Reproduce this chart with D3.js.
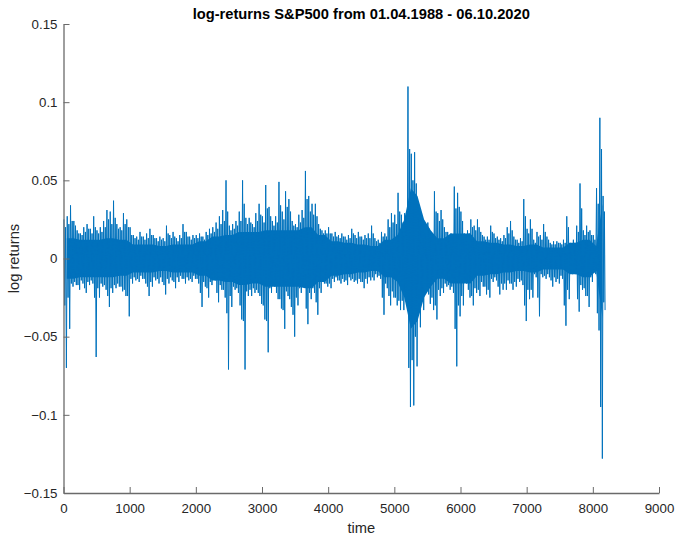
<!DOCTYPE html>
<html>
<head>
<meta charset="utf-8">
<script src="https://cdn.jsdelivr.net/npm/d3@7"></script>
<style>
    body { margin: 0; background: #fff; }
    svg { display: block; font-family: "Liberation Sans", Arial, Helvetica, sans-serif; }
    .axis path, .axis line { stroke: #6a6a6a; }
    .axis text { fill: #262626; font-size: 13.3px; }
</style>
</head>
<body>
<svg id="chart" width="677" height="536"></svg>
<script>
// daily log returns per block of 50 trading days:
// the largest and the second-tier spike up and down in every block
var BIN = 50;
var N_DAYS = 8190;

var binHigh = [
    .025, .027, .034, .024, .018, .016, .020, .022, .019, .027,
    .018, .020, .024, .031, .030, .037, .022, .020, .029, .025,
    .020, .015, .014, .017, .014, .016, .019, .015, .013, .014,
    .013, .021, .015, .017, .013, .015, .022, .017, .014, .015,
    .015, .016, .014, .017, .019, .020, .023, .027, .031, .050,
    .021, .022, .024, .030, .050, .026, .026, .022, .029, .035,
    .027, .047, .033, .024, .027, .049, .030, .043, .038, .024,
    .022, .028, .031, .056, .040, .035, .035, .022, .018, .018,
    .020, .016, .017, .015, .016, .014, .015, .019, .015, .017,
    .014, .015, .016, .021, .013, .012, .017, .016, .025, .029,
    .028, .042, .028, .029, .110, .067, .068, .035, .029, .016,
    .023, .016, .043, .029, .031, .020, .017, .016, .046, .042,
    .030, .016, .018, .025, .021, .025, .017, .014, .014, .021,
    .016, .014, .013, .015, .020, .024, .014, .012, .013, .038,
    .019, .025, .012, .017, .015, .022, .014, .010, .011, .011,
    .010, .012, .027, .010, .012, .021, .048, .018, .021, .018,
    .015, .045, .090, .040
];

var binLow = [
    -.070, -.045, -.018, -.017, -.020, -.016, -.022, -.017, -.016, -.063,
    -.025, -.018, -.020, -.031, -.022, -.019, -.018, -.021, -.024, -.037,
    -.016, -.014, -.015, -.013, -.016, -.024, -.018, -.014, -.016, -.015,
    -.023, -.016, -.014, -.019, -.015, -.013, -.016, -.014, -.015, -.013,
    -.016, -.031, -.018, -.025, -.017, -.014, -.028, -.020, -.025, -.071,
    -.031, -.020, -.022, -.039, -.071, -.024, -.024, -.022, -.022, -.029,
    -.039, -.060, -.022, -.018, -.026, -.032, -.045, -.024, -.031, -.050,
    -.030, -.022, -.018, -.042, -.026, -.022, -.036, -.022, -.016, -.018,
    -.019, -.015, -.014, -.016, -.015, -.017, -.014, -.015, -.016, -.015,
    -.019, -.016, -.014, -.014, -.012, -.013, -.036, -.019, -.030, -.025,
    -.030, -.033, -.033, -.025, -.095, -.094, -.069, -.044, -.033, -.018,
    -.029, -.033, -.039, -.024, -.022, -.018, -.020, -.022, -.069, -.037,
    -.030, -.016, -.025, -.030, -.022, -.024, -.018, -.023, -.025, -.015,
    -.014, -.023, -.020, -.020, -.016, -.020, -.018, -.015, -.017, -.040,
    -.026, -.025, -.012, -.037, -.012, -.013, -.012, -.018, -.015, -.016,
    -.013, -.043, -.026, -.010, -.010, -.034, -.020, -.024, -.031, -.015,
    -.010, -.046, -.128, -.033
];

var binHigh2 = [
    .020, .022, .024, .021, .016, .015, .017, .019, .016, .020,
    .016, .017, .020, .025, .022, .026, .019, .018, .022, .020,
    .015, .013, .012, .014, .012, .013, .015, .013, .011, .012,
    .011, .016, .013, .014, .011, .013, .017, .014, .012, .013,
    .013, .014, .012, .015, .016, .017, .019, .022, .024, .030,
    .018, .019, .021, .024, .035, .022, .023, .020, .024, .028,
    .023, .032, .027, .021, .023, .034, .025, .033, .030, .021,
    .020, .023, .026, .038, .030, .028, .027, .019, .016, .016,
    .016, .014, .014, .013, .014, .012, .013, .016, .013, .014,
    .012, .013, .013, .016, .011, .010, .014, .014, .020, .023,
    .022, .030, .023, .024, .070, .050, .048, .029, .024, .014,
    .019, .014, .030, .024, .025, .017, .015, .014, .032, .033,
    .024, .014, .016, .020, .018, .020, .015, .012, .012, .017,
    .013, .012, .011, .013, .016, .018, .012, .010, .011, .027,
    .016, .019, .010, .014, .012, .017, .012, .009, .009, .010,
    .009, .010, .020, .009, .010, .017, .032, .015, .017, .015,
    .012, .035, .070, .030
];

var binLow2 = [
    -.030, -.025, -.016, -.015, -.017, -.014, -.019, -.015, -.014, -.025,
    -.019, -.016, -.017, -.024, -.019, -.017, -.016, -.018, -.020, -.024,
    -.013, -.012, -.013, -.011, -.013, -.018, -.015, -.012, -.013, -.012,
    -.017, -.013, -.012, -.015, -.012, -.011, -.013, -.012, -.013, -.011,
    -.013, -.022, -.015, -.019, -.015, -.012, -.022, -.017, -.020, -.035,
    -.024, -.018, -.019, -.030, -.040, -.021, -.020, -.019, -.020, -.024,
    -.030, -.040, -.019, -.016, -.022, -.026, -.033, -.021, -.026, -.036,
    -.025, -.019, -.016, -.032, -.022, -.019, -.028, -.019, -.014, -.016,
    -.016, -.013, -.012, -.014, -.013, -.014, -.012, -.013, -.014, -.013,
    -.015, -.013, -.012, -.012, -.010, -.011, -.025, -.016, -.024, -.021,
    -.025, -.027, -.027, -.021, -.070, -.065, -.050, -.035, -.027, -.016,
    -.023, -.025, -.030, -.020, -.019, -.016, -.017, -.018, -.045, -.030,
    -.024, -.014, -.020, -.024, -.019, -.020, -.015, -.018, -.020, -.013,
    -.012, -.018, -.016, -.016, -.014, -.016, -.015, -.013, -.014, -.030,
    -.020, -.020, -.010, -.025, -.010, -.011, -.010, -.014, -.012, -.013,
    -.011, -.030, -.020, -.009, -.009, -.026, -.017, -.019, -.024, -.012,
    -.009, -.035, -.095, -.028
];

// the solid part of the band, per block of 100 days
var CORE_BIN = 100;

var coreHigh = [
    .013, .013, .012, .012, .012, .012, .013, .013, .012, .012,
    .009, .009, .009, .009, .008, .008, .009, .009, .009, .009,
    .011, .011, .014, .014, .015, .015, .017, .017, .017, .017,
    .018, .018, .018, .018, .018, .018, .020, .020, .015, .015,
    .011, .011, .010, .010, .009, .009, .008, .008, .012, .012,
    .015, .025, .045, .040, .025, .018, .013, .013, .016, .016,
    .016, .016, .011, .011, .010, .010, .009, .009, .008, .008,
    .009, .009, .007, .007, .007, .007, .010, .010, .012, .012,
    .008, .035
];

var coreLow = [
    -.013, -.013, -.012, -.012, -.012, -.012, -.012, -.012, -.011, -.011,
    -.009, -.009, -.009, -.009, -.008, -.008, -.009, -.009, -.009, -.009,
    -.011, -.011, -.014, -.014, -.015, -.015, -.017, -.017, -.016, -.016,
    -.018, -.018, -.018, -.018, -.018, -.018, -.019, -.019, -.015, -.015,
    -.011, -.011, -.010, -.010, -.009, -.009, -.008, -.008, -.012, -.012,
    -.015, -.025, -.045, -.040, -.025, -.018, -.013, -.013, -.016, -.016,
    -.016, -.016, -.011, -.011, -.010, -.010, -.009, -.009, -.008, -.008,
    -.009, -.009, -.007, -.007, -.007, -.007, -.010, -.010, -.012, -.012,
    -.008, -.038
];

var xTicks = [0, 1000, 2000, 3000, 4000, 5000, 6000, 7000, 8000, 9000];
var yTicks = [-0.15, -0.1, -0.05, 0, 0.05, 0.1, 0.15];

var titleText = "log-returns S&P500 from 01.04.1988 - 06.10.2020";

// the series as drawn: four spikes inside every block
var series = [];
binHigh.forEach(function(h, i) {
    var start = i * BIN;
    var w = Math.min(start + BIN, N_DAYS) - start;
    series.push([start + w * 0.125, h]);
    series.push([start + w * 0.375, binLow2[i]]);
    series.push([start + w * 0.625, binHigh2[i]]);
    series.push([start + w * 0.875, binLow[i]]);
});

var core = coreHigh.map(function(h, i) {
    var start = i * CORE_BIN;
    var end = Math.min(start + CORE_BIN, N_DAYS);
    return {t: (start + end) / 2, hi: h, lo: coreLow[i]};
});

var svg = d3.select("#chart");

var x = d3.scaleLinear().domain([0, 9000]).range([63.5, 659]);
var y = d3.scaleLinear().domain([-0.15, 0.15]).range([493, 24]);

var blue = "#0072BD";

svg.append("path")
    .datum(core)
    .attr("fill", blue)
    .attr("d", d3.area()
        .x(function(d) { return x(d.t); })
        .y0(function(d) { return y(d.lo); })
        .y1(function(d) { return y(d.hi); }));

svg.append("path")
    .datum(series)
    .attr("fill", "none")
    .attr("stroke", blue)
    .attr("stroke-width", 1)
    .attr("d", d3.line()
        .x(function(d) { return x(d[0]); })
        .y(function(d) { return y(d[1]); }));

svg.append("g")
    .attr("class", "axis")
    .attr("transform", "translate(0," + y(-0.15) + ")")
    .call(d3.axisBottom(x)
        .tickValues(xTicks)
        .tickFormat(d3.format("d"))
        .tickSizeInner(-6)
        .tickSizeOuter(0)
        .tickPadding(11));

svg.append("g")
    .attr("class", "axis")
    .attr("transform", "translate(" + x(0) + ",0)")
    .call(d3.axisLeft(y)
        .tickValues(yTicks)
        .tickFormat(function(d) { return d3.format("")(+d.toFixed(2)); })
        .tickSizeInner(-6)
        .tickSizeOuter(0)
        .tickPadding(6));

svg.selectAll(".axis text").attr("font-family", null);
svg.selectAll(".axis .domain").attr("stroke-width", 1.3);

svg.append("text")
    .attr("x", (x.range()[0] + x.range()[1]) / 2)
    .attr("y", 19)
    .attr("text-anchor", "middle")
    .attr("font-size", "14.7px")
    .attr("font-weight", "bold")
    .attr("fill", "#000")
    .text(titleText);

svg.append("text")
    .attr("x", (x.range()[0] + x.range()[1]) / 2)
    .attr("y", 533)
    .attr("text-anchor", "middle")
    .attr("font-size", "14.7px")
    .attr("fill", "#262626")
    .text("time");

svg.append("text")
    .attr("transform", "translate(19," + y(0) + ") rotate(-90)")
    .attr("text-anchor", "middle")
    .attr("font-size", "14.7px")
    .attr("fill", "#262626")
    .text("log returns");
</script>
</body>
</html>
